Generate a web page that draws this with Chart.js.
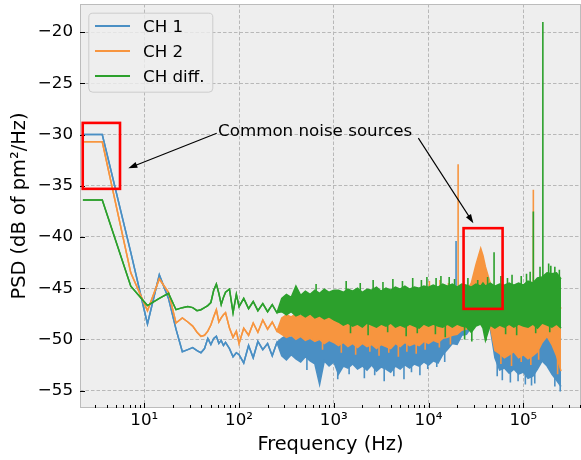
<!DOCTYPE html>
<html><head><meta charset="utf-8">
<script src="https://cdn.jsdelivr.net/npm/chart.js@4"></script>
<style>html,body{margin:0;padding:0;background:#fff}#wrap{width:581px;height:460px}</style>
</head><body><div id="wrap"><canvas id="c" width="581" height="460"></canvas></div>
<script>
// ---------- data ----------
const freq = [2.25, 3.6, 7.2, 10.8, 14.4, 18, 21.6, 25.2, 28.8, 32.4, 36, 39.6, 43.2, 46.8, 50.4, 54, 57.6, 61.2, 64.8, 68.4, 72, 79.2, 86.4, 93.6,
  100, 112, 126, 141, 158, 178, 200, 224, 251,
  282, 316, 355, 398, 447, 501, 562, 631, 708, 794, 891, 1000,
  1120, 1260, 1410, 1580, 1780, 2000, 2240, 2510, 2820, 3160, 3550, 3980, 4470, 5010, 5620, 6310, 7080, 7940, 8910, 10000,
  11200, 12600, 14100, 15800, 17800, 20000, 22400, 25100, 28200, 31600, 35500, 37500, 39800, 44700, 50100, 56200, 63100, 70800, 79400, 89100, 100000,
  112000, 126000, 141000, 158000, 178000, 200000, 224000, 250000];

// upper / lower envelope of each trace (lower = null where the trace is a single line)
const ch1Upper = [-30.0, -30.0, -41.5, -48.5, -43.7, -46.0, -49.0, -51.2, -51.0, -50.8, -51.1, -51.3, -50.9, -49.9, -50.5, -49.9, -49.7, -50.4, -50.1, -50.6, -50.3, -50.9, -51.7, -51.3,
  -51.5, -52.3, -50.6, -51.8, -50.2, -51.0, -50.4, -51.6, -50.3,
  -49.9, -49.6, -49.8, -49.5, -49.4, -49.6, -49.3, -49.7, -49.5, -49.4, -49.6, -49.3,
  -49.2, -49.4, -49.1, -49.3, -49.0, -49.3, -49.2, -49.4, -49.1, -49.3, -49.0, -49.2, -49.4, -49.1, -49.3, -49.0, -49.2, -49.1, -49.3, -49.0,
  -49.1, -48.9, -49.2, -48.8, -49.0, -48.7, -48.4, -48.1, -47.9, -47.8, -47.9, -47.8, -47.9, -48.0, -49.2, -49.4, -49.3, -49.5, -49.2, -49.4, -49.3,
  -49.5, -49.3, -49.2, -49.0, -48.9, -49.2, -49.5, -50.0];
const ch1Lower = [null, null, null, null, null, null, null, null, null, null, null, null, null, null, null, null, null, null, null, null, null, null, null, null,
  null, null, null, null, null, null, null, null, null,
  -51.6, -52.0, -51.5, -51.9, -52.2, -51.7, -52.1, -52.4, -54.4, -52.1, -52.6, -52.2,
  -53.4, -52.6, -52.8, -52.4, -52.9, -52.6, -53.0, -52.5, -53.1, -52.7, -52.9, -53.2, -52.6, -52.9, -52.5, -52.8, -52.4, -52.6, -52.2, -52.5,
  -52.1, -52.3, -51.5, -51.0, -50.4, -50.5, -49.6, -49.5, -48.8, -48.6, -48.5, -48.6, -48.7, -48.9, -51.8, -53.0, -52.8, -53.3, -52.9, -53.4, -53.2,
  -53.8, -53.6, -52.9, -52.1, -52.6, -53.4, -54.0, -54.6];

const ch2Upper = [-30.7, -30.7, -43.5, -47.2, -44.1, -45.4, -48.4, -47.9, -48.3, -48.7, -49.3, -49.7, -49.6, -49.2, -48.6, -47.8, -47.1, -48.3, -47.9, -47.6, -47.4, -48.9, -49.8, -49.2,
  -50.4, -48.9, -49.6, -48.4, -49.3, -48.1, -49.0, -48.3, -49.2,
  -47.9, -47.6, -47.8, -47.5, -47.7, -47.4, -47.6, -47.3, -47.5, -47.2, -47.4, -47.3,
  -47.0, -46.8, -47.1, -46.7, -46.9, -46.6, -46.8, -46.5, -46.9, -46.6, -46.4, -46.7, -46.5, -46.8, -46.4, -46.6, -46.3, -46.5, -46.7, -46.4,
  -46.3, -46.2, -46.2, -46.0, -46.1, -45.9, -45.8, -45.3, -44.5, -42.7, -41.1, -41.8, -42.9, -44.5, -45.5, -46.2, -46.4, -46.3, -46.5, -46.2, -46.4,
  -46.3, -46.1, -46.0, -45.8, -45.6, -45.9, -46.2, -47.0];
const ch2Lower = [null, null, null, null, null, null, null, null, null, null, null, null, null, null, null, null, null, null, null, null, null, null, null, null,
  null, null, null, null, null, null, null, null, null,
  -49.5, -49.8, -49.6, -50.0, -49.7, -50.1, -49.9, -50.2, -50.0, -50.4, -50.1, -50.3,
  -50.6, -50.3, -50.7, -50.4, -50.8, -50.4, -50.7, -50.5, -50.9, -50.5, -50.7, -50.9, -50.4, -50.7, -50.3, -50.6, -50.4, -50.6, -50.2, -50.4,
  -50.1, -50.3, -49.9, -49.8, -49.6, -49.5, -49.1, -49.0, -48.5, -48.4, -48.3, -48.4, -48.5, -48.7, -51.1, -51.4, -51.8, -51.5, -51.2, -51.8, -51.5,
  -51.9, -51.6, -51.2, -50.3, -49.7, -50.5, -51.6, -53.1];

const diffUpper = [-36.4, -36.4, -44.8, -46.7, -46.0, -45.5, -47.1, -46.9, -46.8, -46.9, -47.2, -47.1, -46.9, -46.7, -46.4, -45.2, -44.6, -45.5, -46.6, -45.9, -45.4, -45.1, -47.4, -45.6,
  -46.8, -46.0, -47.0, -46.3, -47.2, -46.5, -47.3, -46.6, -47.4,
  -46.0, -45.6, -45.9, -44.8, -45.7, -45.3, -45.6, -45.2, -45.5, -45.1, -45.4, -45.2,
  -45.2, -45.4, -45.1, -45.3, -45.0, -45.4, -45.1, -45.2, -44.9, -45.3, -45.0, -45.2, -44.9, -45.1, -44.8, -45.1, -44.9, -45.0, -44.8, -44.9,
  -44.7, -44.9, -44.6, -44.8, -44.6, -44.9, -44.6, -44.7, -44.9, -44.6, -44.8, -44.5, -44.8, -44.5, -44.8, -44.6, -44.7, -44.5, -44.7, -44.5, -44.7,
  -44.3, -44.5, -44.0, -43.9, -43.5, -43.6, -43.5, -44.1];
const diffLower = [null, null, null, null, null, null, null, null, null, null, null, null, null, null, null, null, null, null, null, null, null, null, null, null,
  null, null, null, null, null, null, null, null, null,
  -47.3, -47.6, -47.3, -47.7, -47.5, -47.8, -47.5, -47.9, -47.7, -48.0, -47.8, -48.1,
  -48.3, -48.6, -48.4, -48.7, -48.5, -48.8, -48.4, -48.6, -48.8, -48.5, -48.7, -48.4, -48.8, -48.6, -48.8, -48.5, -48.7, -48.9, -48.5, -48.7,
  -48.5, -48.7, -48.8, -48.5, -48.8, -48.5, -48.7, -48.8, -49.3, -48.7, -48.5, -48.9, -50.1, -48.6, -48.9, -48.6, -48.8, -48.5, -48.8, -48.5, -48.7,
  -48.8, -48.5, -48.9, -48.4, -48.6, -48.8, -48.5, -48.9];

// narrow spectral lines and single noise excursions: frequency, end value; start = value inside the band
const ch1LineFreq = [19500, 520, 1100, 1450, 2100, 2700, 3400, 4300, 5500, 6600, 8100, 9800, 12200, 14800, 53000, 60000, 73000, 88000, 105000, 122000, 132000, 215000, 245000];
const ch1LineEnd = [-40.4, -53.0, -53.9, -53.4, -53.8, -53.5, -54.1, -53.6, -53.9, -53.2, -53.5, -52.9, -52.7, -52.2, -53.6, -54.0, -54.2, -54.1, -54.4, -54.5, -54.3, -54.6, -55.1];
const ch1LineStart = [-50.0, -51.5, -52.0, -52.0, -52.0, -52.0, -52.0, -52.0, -52.0, -52.0, -52.0, -52.0, -51.5, -51.0, -52.0, -52.0, -52.0, -52.0, -52.0, -52.0, -52.0, -52.0, -52.0];

const ch2LineFreq = [20500, 127500, 10200, 13200, 16200, 760, 1200, 1700, 2400, 3000, 3800, 4800, 5900, 7400, 9200, 13000, 17000, 58000, 75000, 95000, 120000, 145000, 230000];
const ch2LineEnd = [-32.9, -35.4, -44.3, -44.2, -44.5, -51.0, -51.3, -51.5, -51.2, -51.6, -51.3, -51.7, -51.2, -51.4, -51.0, -50.8, -50.5, -52.4, -52.6, -52.2, -52.5, -52.0, -53.4];
const ch2LineStart = [-48.0, -48.0, -46.5, -46.5, -46.5, -50.0, -50.0, -50.0, -50.0, -50.0, -50.0, -50.0, -50.0, -50.0, -50.0, -49.5, -49.0, -51.0, -51.0, -51.0, -51.0, -51.0, -51.0];

const diffLineFreq = [49100, 127500, 160700, 650, 1350, 1900, 2600, 3300, 4200, 5300, 6800, 8400, 9600, 12000, 13500, 16500, 18800, 26000, 33000, 42000, 58000, 68000, 76000, 95000, 108000, 118000, 150000, 185000, 195000, 215000, 240000,
  1500, 2300, 3700, 5800, 7600, 11800, 15000, 24000, 28600, 40500, 65000, 85000, 135000, 190000];
const diffLineEnd = [-41.5, -37.5, -19.0, -44.6, -44.3, -44.5, -44.2, -44.4, -44.1, -44.3, -44.0, -44.2, -43.9, -44.0, -43.8, -43.9, -44.1, -44.0, -44.2, -43.9, -43.8, -44.0, -43.7, -43.8, -43.6, -43.4, -42.9, -42.6, -42.8, -42.9, -43.2,
  -49.4, -49.6, -49.3, -49.7, -49.4, -49.5, -49.8, -50.0, -50.2, -50.1, -49.5, -49.6, -49.4, -49.3];
const diffLineStart = [-46.0, -46.0, -46.0, -45.8, -45.8, -45.8, -45.8, -45.8, -45.8, -45.8, -45.8, -45.8, -45.8, -45.8, -45.8, -45.8, -45.8, -45.8, -45.8, -45.8, -45.8, -45.8, -45.8, -45.8, -45.8, -45.8, -45.8, -45.8, -45.8, -45.8, -45.8,
  -47.5, -47.5, -47.5, -47.5, -47.5, -47.5, -47.5, -47.5, -47.5, -47.5, -47.5, -47.5, -47.5, -47.5];

const seriesNames = ['CH 1', 'CH 2', 'CH diff.'];
const xMajorTicks = [10, 100, 1000, 10000, 100000];
const xTickLabels = ['10\u00b9', '10\u00b2', '10\u00b3', '10\u2074', '10\u2075'];
const yTicks = [-55, -50, -45, -40, -35, -30, -25, -20];

// annotation (data units)
const highlightBoxes = [[2.24, 5.54, -35.30, -28.86], [23400, 60400, -47.02, -39.14]];
const noteText = 'Common noise sources';
const noteAt = [60, -30.13];
const arrowTails = [[58.1, -29.86], [7800, -30.35]];
const arrowHeads = [[6.78, -33.28], [29700, -38.65]];

// ---------- rendering ----------
const COL = ['#4a8fc4', '#f7953f', '#2ca02c'];
const FONT = '"DejaVu Sans"';
Chart.defaults.font.family = FONT;
Chart.defaults.color = '#000';

function band(upper, lower, color, name, order) {
  return [
    { label: name, data: freq.map((f, i) => ({ x: f, y: upper[i] })), borderColor: color, backgroundColor: color,
      borderWidth: 1.5, pointRadius: 0, fill: false, order: order },
    { label: name + ' low', data: freq.map((f, i) => ({ x: f, y: lower[i] === null ? upper[i] : lower[i] })), borderColor: color,
      backgroundColor: color, borderWidth: 1.5, pointRadius: 0, fill: '-1', order: order }
  ];
}
function lines(fs, ends, starts, color, order) {
  const d = [];
  fs.forEach((f, i) => { d.push({ x: f, y: starts[i] }, { x: f, y: ends[i] }, { x: f, y: null }); });
  return { label: 'lines', data: d, borderColor: color, borderWidth: 1.6, pointRadius: 0, fill: false, spanGaps: false, order: order };
}

const datasets = [
  ...band(ch1Upper, ch1Lower, COL[0], seriesNames[0], 2),
  ...band(ch2Upper, ch2Lower, COL[1], seriesNames[1], 1),
  ...band(diffUpper, diffLower, COL[2], seriesNames[2], 0),
  lines(ch1LineFreq, ch1LineEnd, ch1LineStart, COL[0], 2),
  lines(ch2LineFreq, ch2LineEnd, ch2LineStart, COL[1], 1),
  lines(diffLineFreq, diffLineEnd, diffLineStart, COL[2], 0)
];

const bgPlugin = {
  id: 'bg',
  beforeDraw(chart) {
    const { ctx, chartArea: a } = chart;
    ctx.save();
    ctx.fillStyle = '#ffffff';
    ctx.fillRect(0, 0, chart.width, chart.height);
    ctx.fillStyle = '#eeeeee';
    ctx.fillRect(a.left, a.top, a.right - a.left, a.bottom - a.top);
    ctx.restore();
  }
};

const overlayPlugin = {
  id: 'overlay',
  afterDatasetsDraw(chart) {
    const { ctx, chartArea: a } = chart;
    const X = chart.scales.x, Y = chart.scales.y;
    const px = v => X.getPixelForValue(v), py = v => Y.getPixelForValue(v);
    ctx.save();
    ctx.strokeStyle = '#bcbcbc'; ctx.lineWidth = 1;
    ctx.strokeRect(a.left + 0.5, a.top + 0.5, a.right - a.left - 1, a.bottom - a.top - 1);
    ctx.strokeStyle = '#000'; ctx.lineWidth = 1;
    const seg = (x1, y1, x2, y2) => { ctx.beginPath(); ctx.moveTo(x1, y1); ctx.lineTo(x2, y2); ctx.stroke(); };
    xMajorTicks.forEach(v => { const x = Math.round(px(v)) + 0.5; seg(x, a.bottom, x, a.bottom - 5); });
    for (let d = 0; d <= 5; d++) for (let k = 2; k <= 9; k++) {
      const f = k * Math.pow(10, d);
      if (f > X.min && f < X.max) { const x = Math.round(px(f)) + 0.5; seg(x, a.bottom, x, a.bottom - 3); }
    }
    yTicks.forEach(v => { const y = Math.round(py(v)) + 0.5; seg(a.left, y, a.left + 5, y); });
    ctx.strokeStyle = '#ff0000'; ctx.lineWidth = 2.6;
    highlightBoxes.forEach(b => {
      const x0 = px(b[0]), x1 = px(b[1]), y0 = py(b[2]), y1 = py(b[3]);
      ctx.strokeRect(x0, y1, x1 - x0, y0 - y1);
    });
    ctx.strokeStyle = '#000'; ctx.fillStyle = '#000'; ctx.lineWidth = 1.1;
    arrowTails.forEach((t, i) => {
      const x0 = px(t[0]), y0 = py(t[1]), x1 = px(arrowHeads[i][0]), y1 = py(arrowHeads[i][1]);
      const ang = Math.atan2(y1 - y0, x1 - x0), L = 9, W = 3;
      seg(x0, y0, x1 - Math.cos(ang) * L * 0.6, y1 - Math.sin(ang) * L * 0.6);
      ctx.beginPath();
      ctx.moveTo(x1, y1);
      ctx.lineTo(x1 - Math.cos(ang) * L - Math.sin(ang) * W, y1 - Math.sin(ang) * L + Math.cos(ang) * W);
      ctx.lineTo(x1 - Math.cos(ang) * L + Math.sin(ang) * W, y1 - Math.sin(ang) * L - Math.cos(ang) * W);
      ctx.closePath(); ctx.fill();
    });
    ctx.font = '16.7px ' + FONT; ctx.textAlign = 'left'; ctx.textBaseline = 'alphabetic'; ctx.fillStyle = '#000';
    ctx.fillText(noteText, px(noteAt[0]), py(noteAt[1]));
    const lx = a.left + 8.3, ly = a.top + 8.7, lw = 124, lh = 79;
    ctx.beginPath();
    ctx.roundRect(lx + 0.5, ly + 0.5, lw, lh, 4);
    ctx.fillStyle = 'rgba(238,238,238,0.8)'; ctx.fill();
    ctx.strokeStyle = '#cccccc'; ctx.lineWidth = 1; ctx.stroke();
    seriesNames.forEach((n, i) => {
      const yy = ly + 13.3 + i * 25;
      ctx.strokeStyle = COL[i]; ctx.lineWidth = 2;
      seg(lx + 6.7, yy, lx + 41.7, yy);
      ctx.fillStyle = '#000';
      ctx.fillText(n, lx + 54.7, yy + 6.1);
    });
    ctx.restore();
  }
};

new Chart(document.getElementById('c'), {
  type: 'line',
  data: { datasets: datasets },
  plugins: [bgPlugin, overlayPlugin],
  options: {
    responsive: false, animation: false, devicePixelRatio: 1,
    layout: { padding: { top: 4, right: 0, bottom: 0, left: 0 } },
    plugins: { legend: { display: false }, tooltip: { enabled: false } },
    elements: { line: { tension: 0 } },
    scales: {
      x: {
        type: 'logarithmic', min: 2.096, max: 406000,
        afterBuildTicks: s => { s.ticks = xMajorTicks.map(v => ({ value: v })); },
        afterFit: s => { s.height = 52; s.paddingLeft = 0; s.paddingRight = 0; },
        ticks: { callback: v => { const i = xMajorTicks.indexOf(v); return i >= 0 ? xTickLabels[i] : ''; },
                 font: { size: 16.7 }, color: '#000', padding: 3, maxRotation: 0, autoSkip: false },
        grid: { color: '#b8b8b8', lineWidth: 1, drawTicks: false },
        border: { display: false, dash: [3.5, 2] },
        title: { display: true, text: 'Frequency (Hz)', color: '#000', font: { size: 19.4 }, padding: { top: 0, bottom: 3 } }
      },
      y: {
        type: 'linear', min: -56.7, max: -17.25,
        afterBuildTicks: s => { s.ticks = yTicks.map(v => ({ value: v })); },
        afterFit: s => { s.width = 80; s.paddingTop = 0; s.paddingBottom = 0; },
        ticks: { callback: v => (v < 0 ? '\u2212' : '') + Math.abs(v), font: { size: 16.7 }, color: '#000', padding: 7 },
        grid: { color: '#b8b8b8', lineWidth: 1, drawTicks: false },
        border: { display: false, dash: [3.5, 2] },
        title: { display: true, text: 'PSD (dB of pm\u00b2/Hz)', color: '#000', font: { size: 19.4 }, padding: { top: 8, bottom: 0 } }
      }
    }
  }
});
</script>
</body></html>
